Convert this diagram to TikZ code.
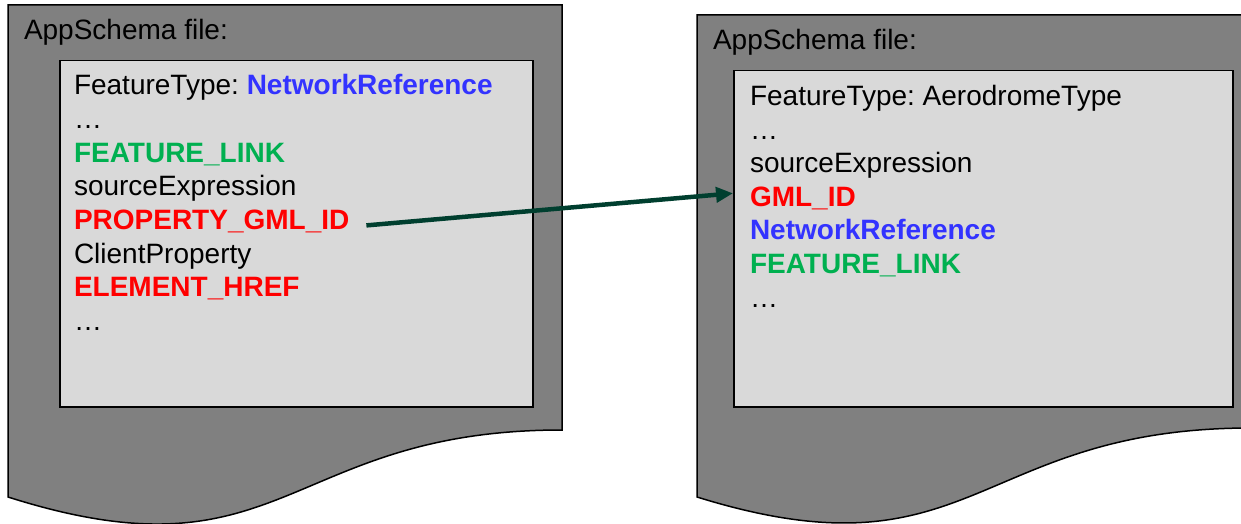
\documentclass[tikz,border=0pt]{standalone}
\usepackage{fontspec}
\setmainfont{Liberation Sans}
\usetikzlibrary{arrows.meta}
\frenchspacing

\definecolor{docgray}{HTML}{808080}
\definecolor{boxgray}{HTML}{D9D9D9}
\definecolor{refblue}{HTML}{3333FF}
\definecolor{linkgreen}{HTML}{00B050}
\definecolor{idred}{HTML}{FF0000}
\definecolor{arrowgreen}{HTML}{003F2F}

\tikzset{
  docshape/.style={fill=docgray, draw=black, line width=1.5pt, line join=miter},
  innerbox/.style={rectangle, fill=boxgray, draw=black, line width=1.5pt,
                   anchor=north west, inner sep=0pt},
  txt/.style={anchor=base west, inner sep=0pt, outer sep=0pt,
              font=\fontsize{28}{33.6}\selectfont\frenchspacing},
  bold/.style={txt, font=\fontsize{28}{33.6}\selectfont\bfseries},
  link/.style={draw=arrowgreen, line width=4.5pt,
               -{Triangle[length=17pt,width=15pt]}}
}

\begin{document}
\begin{tikzpicture}[x=1pt, y=-1pt]
\useasboundingbox (0,0) rectangle (1241,524);

% left document sheet
\path[docshape] (8,5) -- (562,5) -- (562,430)
  .. controls (285,430) and (285,585) .. (8,497) -- cycle;
% right document sheet (runs past the page edge)
\path[docshape] (697,15) -- (1251,15) -- (1251,428)
  .. controls (974,428) and (974,583) .. (697,497) -- cycle;

\node[txt] (ltitle) at (24,40) {AppSchema file:};
\node[txt] (rtitle) at (713,50) {AppSchema file:};

% inner content boxes
\node[innerbox, minimum width=473pt, minimum height=346pt] (lin) at (59,60) {};
\node[innerbox, minimum width=499pt, minimum height=336pt] (rin) at (733,70) {};

% left mapping entries
\node[txt] (lft) at (74,95) {FeatureType: \textcolor{refblue}{\bfseries NetworkReference}};
\node[txt] (ldots1) at (74,128.6) {…};
\node[bold, text=linkgreen] (lflink) at (74,162.2) {FEATURE\_LINK};
\node[txt] (lsrc) at (74,195.8) {sourceExpression};
\node[bold, text=idred] (pgid) at (74,229.4) {PROPERTY\_GML\_ID};
\node[txt] (lcp) at (74,263) {ClientProperty};
\node[bold, text=idred] (lhref) at (74,296.6) {ELEMENT\_HREF};
\node[txt] (ldots2) at (74,330.2) {…};

% right mapping entries
\node[txt] (rft) at (750,105.5) {FeatureType: AerodromeType};
\node[txt] (rdots1) at (750,139.1) {…};
\node[txt] (rsrc) at (750,172.7) {sourceExpression};
\node[bold, text=idred] (gid) at (750,206.3) {GML\_ID};
\node[bold, text=refblue] (rnet) at (750,239.9) {NetworkReference};
\node[bold, text=linkgreen] (rflink) at (750,273.5) {FEATURE\_LINK};
\node[txt] (rdots2) at (750,307.1) {…};

% reference from the property id to the target gml id
\path ([shift={(17,-4)}]pgid.base east) coordinate (linkstart);
\path ([shift={(0,-13)}]gid.base west) coordinate (gidmark);
\draw[link] (linkstart) -- (gidmark -| rin.west);
\end{tikzpicture}
\end{document}
